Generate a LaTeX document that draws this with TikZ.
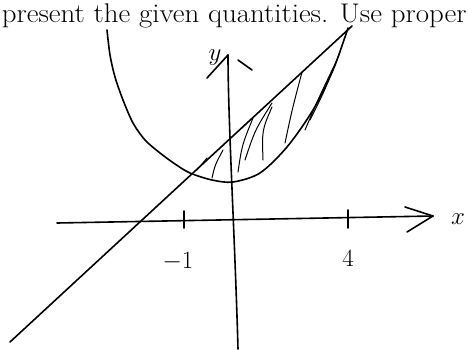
\documentclass[tikz,border=0pt]{standalone}
\usepackage{amsmath}
\usepackage{amssymb}
\begin{document}
\begin{tikzpicture}[x=1pt,y=-1pt,line width=1.6pt,line cap=round,line join=round]
 			\useasboundingbox (0,0) rectangle (474,349);
 			\node[anchor=base west,inner sep=0pt,xscale=1.07,font=\fontsize{27}{30}\selectfont] (txt) at (1,22) {present the given quantities. Use proper};
 			\coordinate (xl) at (57,223);
 			\coordinate (xr) at (433,216);
 			\coordinate (yb) at (238,349);
 			\coordinate (yt) at (228,55);
 			\draw (xl) -- (xr);
 			\draw (405,207) -- (xr) -- (407,232);
 			\draw (yb) .. controls (235,240) and (228,120) .. (yt);
 			\draw (207,78) -- (yt);
 			\draw (238,60) -- (252,70);
 			\draw (184,211) -- (184,228);
 			\draw (348,210) -- (348,228);
 			\draw plot[smooth] coordinates {(107,30) (110,55) (115,77) (123,100) (133,123) (145,140) (160,153) (175,164) (190,173) (212,180) (233,182) (260,173) (287,147) (313,110) (333,70) (345,37) (348,28)};
 			\draw (10,342) -- (352,26);
 			\draw[line width=1pt] (197,170) -- (207,158);
 			\draw[line width=1pt] (212,178) .. controls (215,165) .. (223,150);
 			\draw[line width=1pt] (238,172) .. controls (242,145) .. (253,118);
 			\draw[line width=1pt] (245,160) .. controls (255,130) .. (272,103);
 			\draw[line width=1pt] (263,160) .. controls (262,130) .. (272,107);
 			\draw[line width=1pt] (285,143) .. controls (292,110) .. (302,72);
 			\draw[line width=1pt] (305,130) .. controls (320,95) .. (337,60);
 			\draw[line width=1pt] (310,120) .. controls (325,90) .. (340,52);
 			\node[font=\fontsize{32}{36}\selectfont] (lx) at (458,219) {$x$};
 			\node[font=\fontsize{30}{34}\selectfont] (ly) at (215,58) {$y$};
 			\node[font=\fontsize{26}{30}\selectfont] (lm) at (178,262) {$-1$};
 			\node[font=\fontsize{28}{32}\selectfont] (lf) at (348,258) {$4$};
 		\end{tikzpicture}
\end{document}
